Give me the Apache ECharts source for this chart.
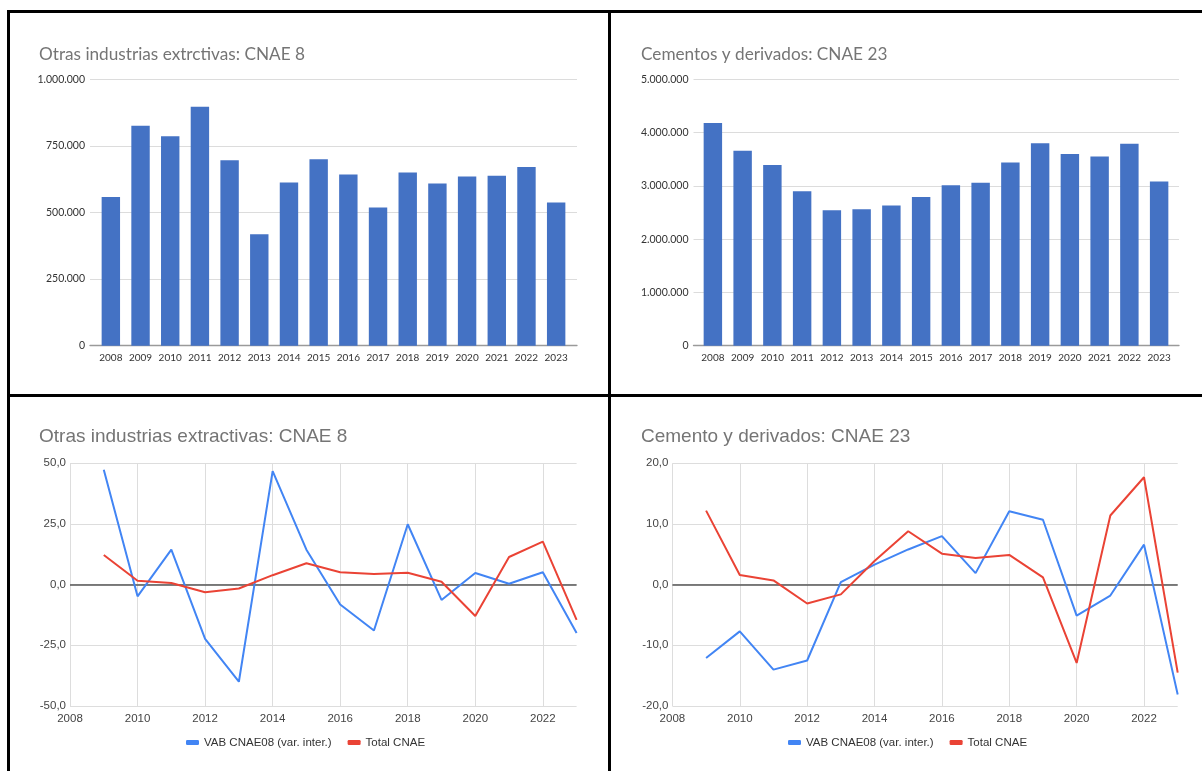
<!DOCTYPE html>
<html><head><meta charset="utf-8">
<script src="https://cdn.jsdelivr.net/npm/echarts@6/dist/echarts.min.js"></script>
<style>
html,body{margin:0;padding:0;background:#fff;}
#c{width:1202px;height:771px;position:absolute;left:0;top:0;}
.b{position:absolute;background:#000;pointer-events:none;}
</style></head><body>
<div id="c"></div>
<div class="b" style="left:7px;top:10px;width:1195px;height:3px"></div>
<div class="b" style="left:7px;top:10px;width:3px;height:761px"></div>
<div class="b" style="left:608px;top:10px;width:3px;height:761px"></div>
<div class="b" style="left:7px;top:394px;width:1195px;height:3px"></div>
<script>
// ---- data ----
const years = ['2008','2009','2010','2011','2012','2013','2014','2015','2016','2017','2018','2019','2020','2021','2022','2023'];
const extractivasVAB = [558000, 826000, 786000, 897000, 696000, 418000, 613000, 700000, 643000, 519000, 650000, 609000, 635000, 638000, 671000, 538000];
const cementoVAB = [4180000, 3660000, 3390000, 2900000, 2540000, 2560000, 2630000, 2790000, 3010000, 3060000, 3440000, 3800000, 3600000, 3550000, 3790000, 3080000];
const varYears = [2009, 2010, 2011, 2012, 2013, 2014, 2015, 2016, 2017, 2018, 2019, 2020, 2021, 2022, 2023];
const extractivasVar = [47.3, -4.8, 14.4, -22.3, -40.0, 46.8, 14.4, -8.2, -18.9, 24.9, -6.3, 4.8, 0.4, 5.1, -19.9];
const totalVar = [12.2, 1.6, 0.7, -3.1, -1.6, 3.9, 8.8, 5.1, 4.4, 4.9, 1.2, -12.9, 11.4, 17.7, -14.5];
const cementoVar = [-12.1, -7.7, -14.0, -12.5, 0.4, 3.3, 5.8, 8.0, 1.9, 12.1, 10.7, -5.1, -1.8, 6.6, -18.1];
const titles = ['Otras industrias extrctivas: CNAE 8', 'Cementos y derivados: CNAE 23', 'Otras industrias extractivas: CNAE 8', 'Cemento y derivados: CNAE 23'];
const seriesNames = ['VAB CNAE08 (var. inter.)', 'Total CNAE'];

// ---- helpers ----
const thou = v => String(v).replace(/\B(?=(\d{3})+(?!\d))/g, '.');
const dec = v => v.toFixed(1).replace('.', ',');
const pairs = (xs, ys) => xs.map((x, i) => [x, ys[i]]);
const XL = "Lato, 'Open Sans', sans-serif";
const GL = "'Liberation Sans', Arial, sans-serif";
const BLUE = '#4472C4';

const topGrid = {top: 79.3, height: 266.4};
const grids = [
  {left: 90, width: 487, ...topGrid},        // 0 TL frame
  {left: 96, width: 475, ...topGrid},        // 1 TL bars
  {left: 693.5, width: 485.5, ...topGrid},   // 2 TR frame
  {left: 698, width: 476, ...topGrid},       // 3 TR bars
  {left: 70, width: 506.6, top: 463.3, height: 242.7},    // 4 BL
  {left: 672.4, width: 505.3, top: 463.3, height: 242.7}  // 5 BR
];

function frameX(gi) {
  return {gridIndex: gi, type: 'value', min: 0, max: 1, axisLine: {show: true, onZero: false, lineStyle: {color: '#9a9a9a', width: 1.3}},
    axisTick: {show: false}, axisLabel: {show: false}, splitLine: {show: false}};
}
function frameY(gi, max, interval) {
  return {gridIndex: gi, type: 'value', min: 0, max: max, interval: interval,
    axisLine: {show: false}, axisTick: {show: false},
    axisLabel: {formatter: thou, color: '#333', fontFamily: XL, fontSize: 10.5, margin: 5},
    splitLine: {lineStyle: {color: '#dcdcdc', width: 1}}};
}
function barX(gi) {
  return {gridIndex: gi, type: 'category', data: years, boundaryGap: true,
    axisLine: {show: false}, axisTick: {show: false},
    axisLabel: {color: '#333', fontFamily: XL, fontSize: 10, margin: 7, interval: 0}};
}
function hiddenY(gi, max) {
  return {gridIndex: gi, type: 'value', min: 0, max: max, show: false, splitLine: {show: false}};
}
function lineX(gi) {
  return {gridIndex: gi, type: 'value', min: 2008, max: 2023, interval: 2,
    axisLine: {show: false}, axisTick: {show: false},
    axisLabel: {formatter: v => String(v), showMaxLabel: false, color: '#444', fontFamily: GL, fontSize: 11.5, margin: 7},
    splitLine: {show: true, showMaxLine: false, lineStyle: {color: '#dddddd', width: 1}}};
}
function lineY(gi, lim, interval) {
  return {gridIndex: gi, type: 'value', min: -lim, max: lim, interval: interval,
    axisLine: {show: false}, axisTick: {show: false},
    axisLabel: {formatter: dec, color: '#444', fontFamily: GL, fontSize: 11.5, margin: 4},
    splitLine: {lineStyle: {color: '#dddddd', width: 1}}};
}
function lineSeries(xi, yi, name, data, color, withZero) {
  const s = {type: 'line', name: name, xAxisIndex: xi, yAxisIndex: yi, data: data,
    showSymbol: false, symbol: 'none', lineStyle: {color: color, width: 2}, itemStyle: {color: color},
    clip: true, animation: false};
  if (withZero) {
    s.markLine = {silent: true, symbol: 'none', label: {show: false}, z: 1,
      lineStyle: {color: '#555', width: 1.5, type: 'solid'}, data: [{yAxis: 0}]};
  }
  return s;
}

const titleStyle = (ff, fs) => ({color: '#757575', fontFamily: ff, fontSize: fs, fontWeight: 'normal'});

const option = {
  animation: false,
  backgroundColor: '#fff',
  title: [
    {text: titles[0], left: 39, top: 45.5, padding: 0, textStyle: titleStyle(XL, 17.2)},
    {text: titles[1], left: 641, top: 45.5, padding: 0, textStyle: titleStyle(XL, 17.2)},
    {text: titles[2], left: 39, top: 427, padding: 0, textStyle: titleStyle(GL, 19)},
    {text: titles[3], left: 641, top: 427, padding: 0, textStyle: titleStyle(GL, 19)}
  ],
  legend: [
    {left: 186, top: 736.5, padding: 0, icon: 'roundRect', itemWidth: 13, itemHeight: 5, itemGap: 16,
      textStyle: {fontFamily: GL, fontSize: 11.5, color: '#333'}, data: seriesNames},
    {left: 788, top: 736.5, padding: 0, icon: 'roundRect', itemWidth: 13, itemHeight: 5, itemGap: 16,
      textStyle: {fontFamily: GL, fontSize: 11.5, color: '#333'}, data: seriesNames}
  ],
  grid: grids,
  xAxis: [frameX(0), barX(1), frameX(2), barX(3), lineX(4), lineX(5)],
  yAxis: [frameY(0, 1000000, 250000), hiddenY(1, 1000000), frameY(2, 5000000, 1000000), hiddenY(3, 5000000),
          lineY(4, 50, 25), lineY(5, 20, 10)],
  series: [
    {type: 'bar', xAxisIndex: 1, yAxisIndex: 1, data: extractivasVAB, barWidth: '62%', itemStyle: {color: BLUE}},
    {type: 'bar', xAxisIndex: 3, yAxisIndex: 3, data: cementoVAB, barWidth: '62%', itemStyle: {color: BLUE}},
    lineSeries(4, 4, seriesNames[0], pairs(varYears, extractivasVar), '#4285F4', true),
    lineSeries(4, 4, seriesNames[1], pairs(varYears, totalVar), '#EA4335', false),
    lineSeries(5, 5, seriesNames[0], pairs(varYears, cementoVar), '#4285F4', true),
    lineSeries(5, 5, seriesNames[1], pairs(varYears, totalVar), '#EA4335', false)
  ]
};
const chart = echarts.init(document.getElementById('c'), null, {renderer: 'canvas'});
chart.setOption(option);
</script>
</body></html>
